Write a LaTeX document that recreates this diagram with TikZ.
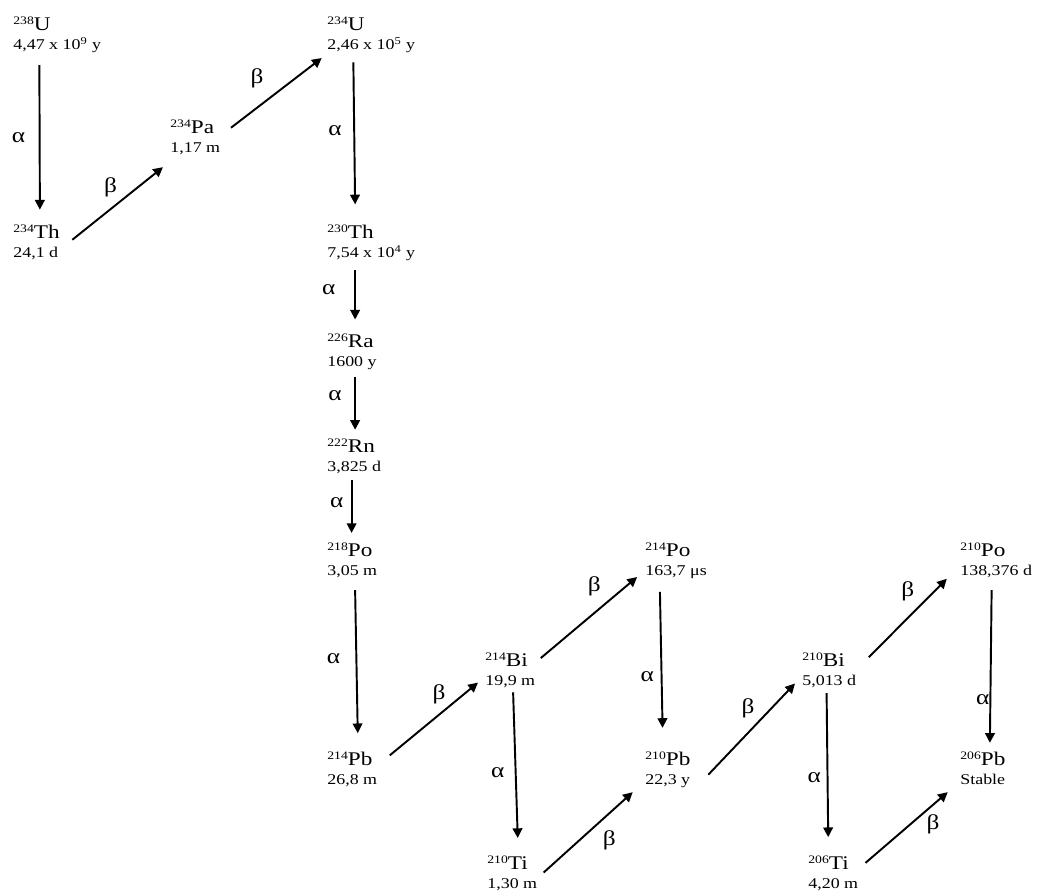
\documentclass[tikz,border=0pt]{standalone}
\usepackage{fontspec}
\setmainfont[FakeStretch=1.2]{Liberation Serif}
\usetikzlibrary{arrows.meta}

% mass number as a small raised prefix
\newcommand{\iso}[2]{\raisebox{3pt}{\fontsize{6.5}{7}\selectfont #1}#2}
% element on the first line, half-life below
\newcommand{\nuclide}[3]{\begin{tabular}[t]{@{}l@{}}\iso{#1}{#2}\\ \fontsize{8.5}{10}\selectfont #3\end{tabular}}

\begin{document}
\begin{tikzpicture}[x=0.02cm, y=-0.02cm,
nuc/.style={anchor=base west, inner sep=0pt, font=\fontsize{11}{11.35}\selectfont},
decay/.style={line width=1.1pt, -{Triangle[length=5.5pt,width=5.5pt]}},
lbl/.style={inner sep=0pt, font=\fontsize{12}{14}\selectfont}
]
\useasboundingbox (0,0) rectangle (1038,893);

% ---------- NUCLIDES ----------
\node[nuc] (u238) at (13,30) {\nuclide{238}{U}{4,47 x 10\textsuperscript{9} y}};
\node[nuc] (th234) at (13,238) {\nuclide{234}{Th}{24,1 d}};
\node[nuc] (pa234) at (170,133) {\nuclide{234}{Pa}{1,17 m}};
\node[nuc] (u234) at (327,30) {\nuclide{234}{U}{2,46 x 10\textsuperscript{5} y}};
\node[nuc] (th230) at (327,238) {\nuclide{230}{Th}{7,54 x 10\textsuperscript{4} y}};
\node[nuc] (ra226) at (327,347) {\nuclide{226}{Ra}{1600 y}};
\node[nuc] (rn222) at (327,452) {\nuclide{222}{Rn}{3,825 d}};
\node[nuc] (po218) at (327,556) {\nuclide{218}{Po}{3,05 m}};
\node[nuc] (pb214) at (327,765) {\nuclide{214}{Pb}{26,8 m}};
\node[nuc] (bi214) at (485,666) {\nuclide{214}{Bi}{19,9 m}};
\node[nuc] (po214) at (645,556) {\nuclide{214}{Po}{163,7 μs}};
\node[nuc] (pb210) at (645,765) {\nuclide{210}{Pb}{22,3 y}};
\node[nuc] (ti210) at (487,869) {\nuclide{210}{Ti}{1,30 m}};
\node[nuc] (bi210) at (802,666) {\nuclide{210}{Bi}{5,013 d}};
\node[nuc] (po210) at (960,556) {\nuclide{210}{Po}{138,376 d}};
\node[nuc] (pb206) at (960,765) {\nuclide{206}{Pb}{Stable}};
\node[nuc] (ti206) at (808,869) {\nuclide{206}{Ti}{4,20 m}};

% ---------- ALPHA DECAYS ----------
\draw[decay] ([xshift=15pt,yshift=-5pt]u238.south west) -- node[lbl,xshift=-12pt] {α} ([xshift=15.3pt,yshift=8pt]th234.north west);
\draw[decay] ([xshift=15pt,yshift=-3.5pt]u234.south west) -- node[lbl,xshift=-11pt,yshift=1.5pt] {α} ([xshift=16pt,yshift=11pt]th230.north west);
\draw[decay] ([xshift=16pt,yshift=-3.5pt]th230.south west) -- node[lbl,xshift=-15pt,yshift=3pt] {α} ([xshift=16pt,yshift=7.5pt]ra226.north west);
\draw[decay] ([xshift=16pt,yshift=-2pt]ra226.south west) -- node[lbl,xshift=-11.5pt,yshift=4.5pt] {α} ([xshift=16pt,yshift=4.5pt]rn222.north west);
\draw[decay] ([xshift=14pt,yshift=-1pt]rn222.south west) -- node[lbl,xshift=-8.5pt,yshift=2pt] {α} ([xshift=14pt,yshift=5pt]po218.north west);
\draw[decay] ([xshift=16pt,yshift=-4.5pt]po218.south west) -- node[lbl,xshift=-13pt,yshift=2pt] {α} ([xshift=17.5pt,yshift=10pt]pb214.north west);
\draw[decay] ([xshift=16pt]bi214.south west) -- node[lbl,xshift=-10pt,yshift=-4.5pt] {α} ([xshift=17.5pt,yshift=9.5pt]ti210.north west);
\draw[decay] ([xshift=8.5pt,yshift=-5.5pt]po214.south west) -- node[lbl,xshift=-8pt,yshift=-9.5pt] {α} ([xshift=10pt,yshift=13pt]pb210.north west);
\draw[decay] ([xshift=14pt,yshift=-0.5pt]bi210.south west) -- node[lbl,xshift=-7.5pt,yshift=-7pt] {α} ([xshift=11.5pt,yshift=10pt]ti206.north west);
\draw[decay] ([xshift=18pt,yshift=-4.5pt]po210.south west) -- node[lbl,xshift=-4.5pt,yshift=-19pt] {α} ([xshift=17pt,yshift=4.5pt]pb206.north west);

% ---------- BETA DECAYS ----------
\draw[decay] ([xshift=7pt,yshift=-1pt]th234.base east) -- node[lbl,xshift=-4pt,yshift=9pt] {β} ([xshift=-4pt,yshift=-4.5pt]pa234.south west);
\draw[decay] ([xshift=6pt,yshift=3pt]pa234.base east) -- node[lbl,xshift=-11pt,yshift=8.5pt] {β} ([xshift=-3pt,yshift=-1pt]u234.south west);
\draw[decay] ([xshift=7pt,yshift=5.5pt]pb214.base east) -- node[lbl,xshift=3pt,yshift=14pt] {β} ([xshift=-4pt,yshift=5.5pt]bi214.south west);
\draw[decay] ([xshift=3pt,yshift=4.5pt]bi214.base east) -- node[lbl,xshift=3pt,yshift=18pt] {β} ([xshift=-4.5pt,yshift=3pt]po214.south west);
\draw[decay] ([xshift=3.5pt,yshift=-2pt]ti210.base east) -- node[lbl,xshift=12pt,yshift=-4.5pt] {β} ([xshift=-7pt,yshift=-0.5pt]pb210.south west);
\draw[decay] ([xshift=10pt,yshift=-5.5pt]pb210.base east) -- node[lbl,xshift=-2pt,yshift=12pt] {β} ([xshift=-4pt,yshift=5pt]bi210.south west);
\draw[decay] ([xshift=7pt,yshift=5pt]bi210.base east) -- node[lbl,yshift=15pt] {β} ([xshift=-7.5pt,yshift=2pt]po210.south west);
\draw[decay] ([xshift=4pt,yshift=3.5pt]ti206.base east) -- node[lbl,xshift=15pt,yshift=2pt] {β} ([xshift=-7pt,yshift=-0.5pt]pb206.south west);

\end{tikzpicture}
\end{document}
